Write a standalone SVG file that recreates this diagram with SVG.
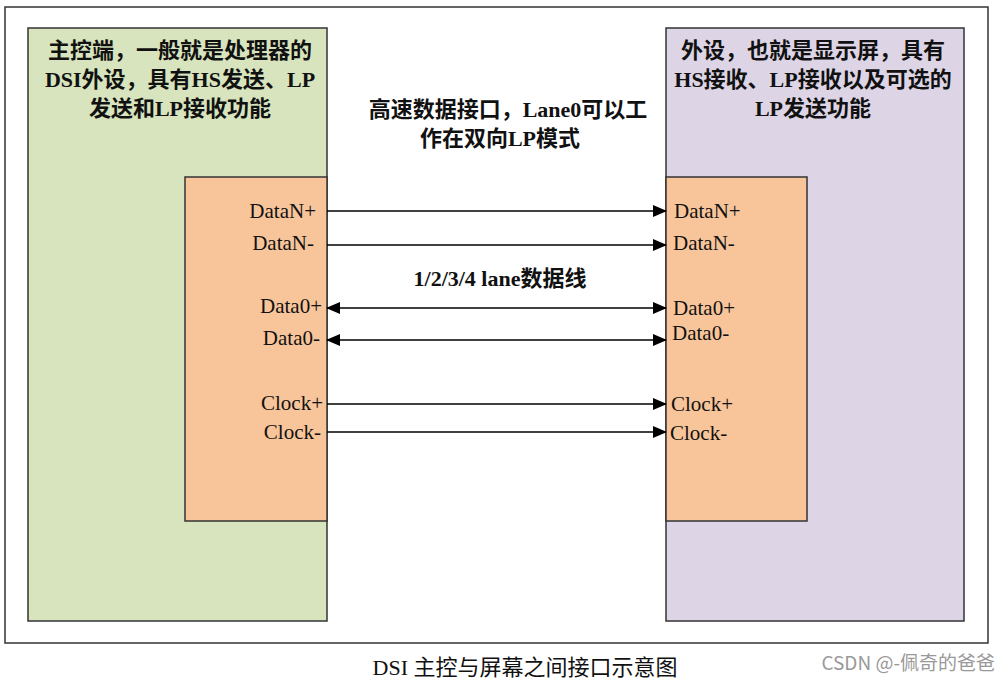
<svg xmlns="http://www.w3.org/2000/svg" width="1000" height="681" viewBox="0 0 1000 681">
<defs>
<marker id="ah" markerWidth="14" markerHeight="12" refX="13" refY="6" orient="auto-start-reverse" markerUnits="userSpaceOnUse">
<path d="M0,0 L14,6 L0,12 Z" fill="#000"/>
</marker>
<style>
.box{stroke:#333;stroke-width:1.5}
.t{font-family:"Liberation Serif","Noto Sans CJK SC",serif;font-weight:bold;font-size:22px;fill:#111;text-anchor:middle}
.p{font-family:"Liberation Serif",serif;font-size:21px;fill:#111}
.l{stroke:#000;stroke-width:1.6;fill:none}
</style>
</defs>
<rect width="1000" height="681" fill="#fff"/>
<g id="frame"><rect x="5" y="7" width="983" height="636" fill="none" stroke="#333" stroke-width="1.5"/></g>
<g id="host">
<rect class="box" x="28" y="28" width="299" height="593" fill="#d7e4bd"/>
<text class="t" x="180" y="58">主控端，一般就是处理器的</text>
<text class="t" x="180" y="87">DSI外设，具有HS发送、LP</text>
<text class="t" x="180" y="116">发送和LP接收功能</text>
</g>
<g id="device">
<rect class="box" x="666" y="28" width="298" height="593" fill="#ddd5e6"/>
<text class="t" x="813" y="58">外设，也就是显示屏，具有</text>
<text class="t" x="813" y="87">HS接收、LP接收以及可选的</text>
<text class="t" x="813" y="116">LP发送功能</text>
</g>
<g id="host-port">
<rect class="box" x="185" y="177" width="142" height="344" fill="#f8c59a"/>
<g class="p" text-anchor="end">
<text x="316" y="218">DataN+</text>
<text x="314" y="250">DataN-</text>
<text x="322" y="313">Data0+</text>
<text x="320" y="345">Data0-</text>
<text x="323" y="410">Clock+</text>
<text x="321" y="439">Clock-</text>
</g>
</g>
<g id="device-port">
<rect class="box" x="666" y="177" width="141" height="344" fill="#f8c59a"/>
<g class="p">
<text x="674" y="218">DataN+</text>
<text x="673" y="250">DataN-</text>
<text x="673" y="315">Data0+</text>
<text x="672" y="340">Data0-</text>
<text x="671" y="411">Clock+</text>
<text x="670" y="440">Clock-</text>
</g>
</g>
<g id="connectors">
<line class="l" x1="327" y1="211" x2="666" y2="211" marker-end="url(#ah)"/>
<line class="l" x1="327" y1="245" x2="666" y2="245" marker-end="url(#ah)"/>
<line class="l" x1="327" y1="308" x2="666" y2="308" marker-start="url(#ah)" marker-end="url(#ah)"/>
<line class="l" x1="327" y1="340" x2="666" y2="340" marker-start="url(#ah)" marker-end="url(#ah)"/>
<line class="l" x1="327" y1="404" x2="666" y2="404" marker-end="url(#ah)"/>
<line class="l" x1="327" y1="432" x2="666" y2="432" marker-end="url(#ah)"/>
</g>
<g id="labels">
<text class="t" x="508" y="117">高速数据接口，Lane0可以工</text>
<text class="t" x="500" y="146">作在双向LP模式</text>
<text class="t" x="500" y="286">1/2/3/4 lane数据线</text>
<text x="525" y="675" font-family="Liberation Serif,'Noto Sans CJK SC',serif" font-size="22" fill="#111" text-anchor="middle">DSI 主控与屏幕之间接口示意图</text>
<text x="995" y="670" font-family="'Noto Sans CJK SC',sans-serif" font-size="19" fill="#999" text-anchor="end">CSDN @-佩奇的爸爸</text>
</g>
</svg>
